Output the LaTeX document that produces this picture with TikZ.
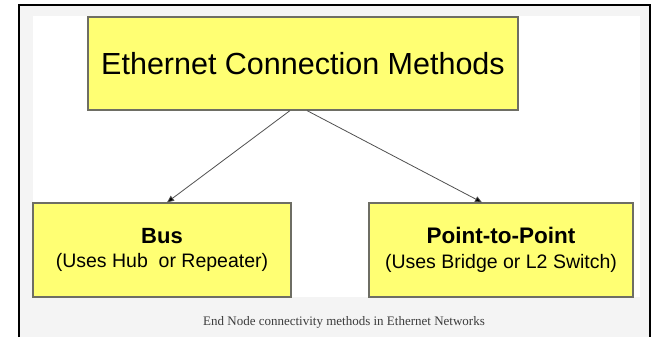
\documentclass[tikz,border=0pt]{standalone}
\usepackage{fontspec}
\setmainfont{Liberation Sans}
\newfontfamily\capfont{Liberation Serif}
\usetikzlibrary{arrows.meta}
\definecolor{boxyellow}{HTML}{FFFF73}
\definecolor{boxedge}{HTML}{6E6E64}
\definecolor{bggrey}{HTML}{F4F4F4}
\definecolor{linegrey}{HTML}{505050}
\definecolor{captext}{HTML}{3C3C3C}
\tikzset{
  ybox/.style={draw=boxedge, line width=1.2pt, fill=boxyellow, align=center, inner sep=0pt},
  arr/.style={draw=linegrey, line width=0.8pt, -{Triangle[length=7pt,width=6pt,fill=black]}},
}
\begin{document}
\begin{tikzpicture}[x=1pt,y=-1pt]
\useasboundingbox (0,0) rectangle (652,337);
\fill[white] (0,0) rectangle (652,337);
\fill[bggrey] (19,5) rectangle (650,337);
\fill[white] (33,16) rectangle (640,297);
\draw[black, line width=2pt] (19,337) -- (19,5) -- (650,5) -- (650,337);
\node[ybox, minimum width=430pt, minimum height=93pt, font=\fontsize{30.5}{34}\selectfont] (top) at (303,63.5) {Ethernet Connection Methods};
\node[ybox, minimum width=258pt, minimum height=94pt] (bus) at (162,250)
  {{\fontsize{22}{24}\selectfont\bfseries Bus}\\[9pt]{\fontsize{19.5}{22}\selectfont (Uses Hub\ \ or Repeater)}};
\node[ybox, minimum width=264pt, minimum height=94pt] (p2p) at (501,250)
  {{\fontsize{22.5}{24}\selectfont\bfseries Point-to-Point}\\[9pt]{\fontsize{19.5}{22}\selectfont (Uses Bridge or L2 Switch)}};
\draw[arr] ([xshift=-13pt]top.south) -- ([xshift=5pt]bus.north);
\draw[arr] ([xshift=4pt]top.south) -- ([xshift=-19pt]p2p.north);
\node[text=captext, font=\capfont\fontsize{13}{15}\selectfont] (cap) at (344,322) {End Node connectivity methods in Ethernet Networks};
\end{tikzpicture}
\end{document}
